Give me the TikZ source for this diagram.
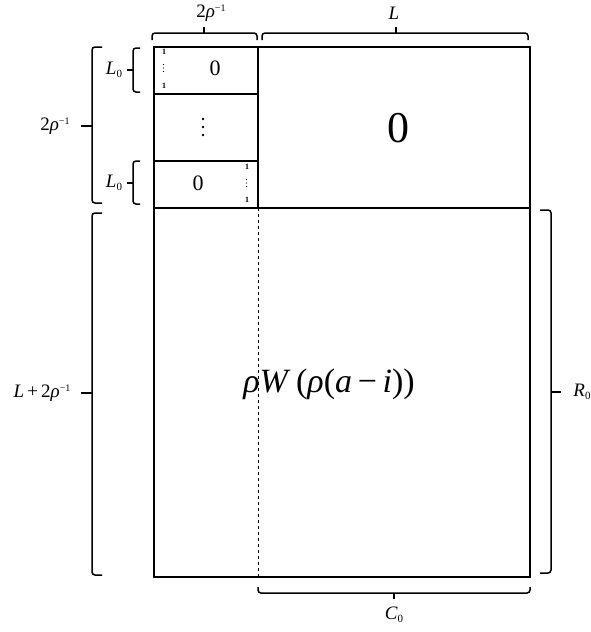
\documentclass[tikz,border=0pt]{standalone}
\usepackage{fontspec}
\setmainfont{Liberation Serif}
\newcommand{\supm}{\raisebox{0.75ex}{\fontsize{10}{10}\selectfont −1}}
\newcommand{\subz}[1]{\raisebox{-0.35ex}{\fontsize{11}{11}\selectfont #1}}
\begin{document}
\begin{tikzpicture}[x=1pt,y=-1pt,
  frame/.style={line width=1.6pt},
  brc/.style={line width=1.5pt, rounded corners=3pt},
  tick/.style={line width=2pt},
  lab/.style={inner sep=0pt, font=\fontsize{19}{19}\selectfont},
  one/.style={inner sep=0pt, font=\fontsize{8}{8}\selectfont\bfseries},
  zero/.style={inner sep=0pt, font=\fontsize{22}{22}\selectfont},
]
\useasboundingbox (0,0) rectangle (590,632);
% frame
\draw[frame] (154,47) rectangle (530,577);
\draw[frame] (258,47) -- (258,208);
\draw[frame] (154,94) -- (258,94);
\draw[frame] (154,161) -- (258,161);
\draw[frame] (154,208) -- (530,208);
\draw[dashed, line width=0.8pt] (258,208) -- (258,577);
% cell contents
\node[one] (o1) at (164,52) {1};
\foreach \yy in {64.5,68,71.5} \fill (163.5,\yy) circle (0.7);
\node[one] (o2) at (164,86) {1};
\node[zero] (z1) at (215,68) {0};
\foreach \yy in {119,127,135} \fill (203,\yy) circle (1.4);
\node[zero] (z2) at (198,183) {0};
\node[one] (o3) at (247,167) {1};
\foreach \yy in {179.5,183,186.5} \fill (246.5,\yy) circle (0.7);
\node[one] (o4) at (247,200) {1};
\node[inner sep=0pt, font=\fontsize{44}{44}\selectfont] (bz) at (398,128) {0};
\node[inner sep=0pt, font=\fontsize{34}{34}\selectfont] (rw) at (329,384)
  {\textit{ρW}\,(\textit{ρ}(\textit{a}\,−\,\textit{i}))};
% top braces
\draw[brc] (152,40) -- (152,33) -- (257,33) -- (257,40);
\draw[tick] (204,33) -- (204,27);
\node[lab] (t1) at (211,13) {2\textit{ρ}\supm};
\draw[brc] (262,40) -- (262,33) -- (528,33) -- (528,40);
\draw[tick] (396,33) -- (396,27);
\node[lab] (t2) at (394,13) {\textit{L}};
% left small braces
\draw[brc] (140,48) -- (133,48) -- (133,92) -- (140,92);
\draw[tick] (133,70) -- (127,70);
\node[lab] (l1) at (114,70) {\textit{L}\subz{0}};
\draw[brc] (140,161) -- (133,161) -- (133,204) -- (140,204);
\draw[tick] (133,183) -- (127,183);
\node[lab] (l2) at (114,183) {\textit{L}\subz{0}};
% left big braces
\draw[brc] (102,47) -- (92,47) -- (92,203) -- (102,203);
\draw[tick] (92,126) -- (81,126);
\node[lab] (l3) at (55,126) {2\textit{ρ}\supm};
\draw[brc] (102,213) -- (92,213) -- (92,575) -- (102,575);
\draw[tick] (92,393) -- (81,393);
\node[lab] (l4) at (42,393) {\textit{L}\,+\,2\textit{ρ}\supm};
% right brace
\draw[brc] (540,210) -- (551,210) -- (551,573) -- (540,573);
\draw[tick] (551,392) -- (561,392);
\node[lab] (r0) at (582,392) {\textit{R}\subz{0}};
% bottom brace
\draw[brc] (258,587) -- (258,593) -- (530,593) -- (530,587);
\draw[tick] (394,593) -- (394,599);
\node[lab] (c0) at (394,615) {\textit{C}\subz{0}};
\end{tikzpicture}
\end{document}
